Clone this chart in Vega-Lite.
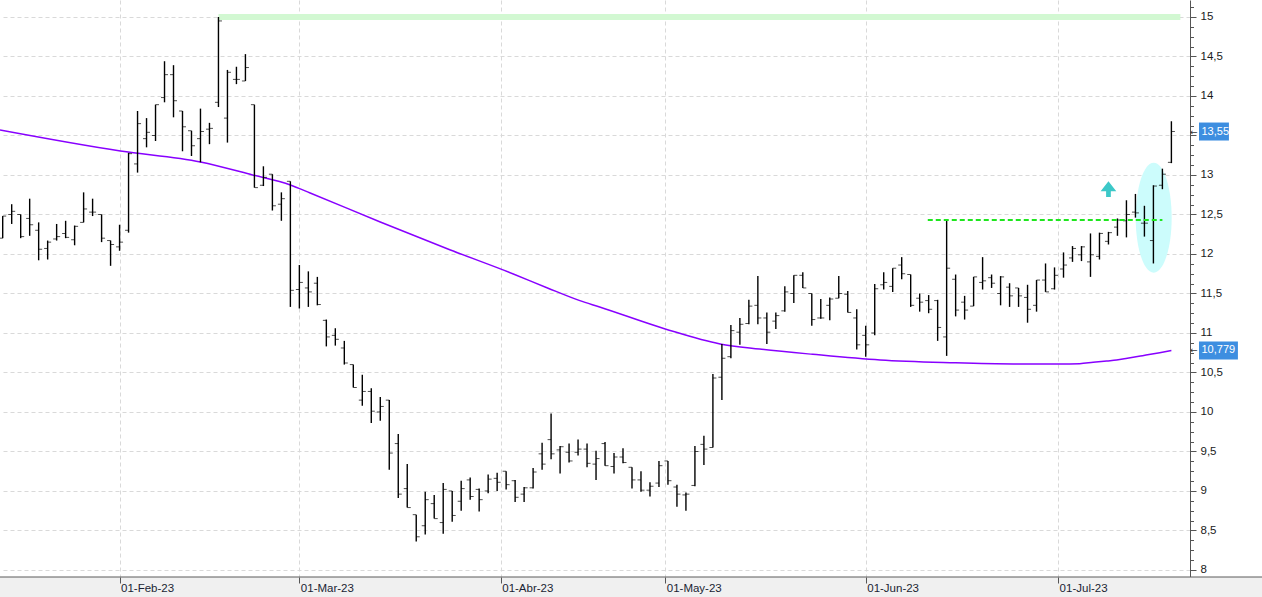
{
  "$schema": "https://vega.github.io/schema/vega-lite/v6.json",
  "width": 1190,
  "height": 577,
  "autosize": "none",
  "padding": {"left": 0, "top": 0, "right": 72, "bottom": 20},
  "background": "white",
  "config": {"view": {"stroke": null}, "font": "Liberation Sans"},
  "datasets": {
    "bars": [
      {"i":0,"o":12.20,"h":12.48,"l":12.20,"c":12.48},
      {"i":1,"o":12.50,"h":12.63,"l":12.38,"c":12.54},
      {"i":2,"o":12.50,"h":12.50,"l":12.20,"c":12.22},
      {"i":3,"o":12.45,"h":12.70,"l":12.23,"c":12.37},
      {"i":4,"o":12.30,"h":12.40,"l":11.92,"c":12.06},
      {"i":5,"o":12.07,"h":12.17,"l":11.93,"c":12.15},
      {"i":6,"o":12.19,"h":12.38,"l":12.17,"c":12.22},
      {"i":7,"o":12.26,"h":12.42,"l":12.20,"c":12.21},
      {"i":8,"o":12.18,"h":12.36,"l":12.11,"c":12.35},
      {"i":9,"o":12.40,"h":12.78,"l":12.40,"c":12.57},
      {"i":10,"o":12.53,"h":12.70,"l":12.48,"c":12.53},
      {"i":11,"o":12.50,"h":12.50,"l":12.15,"c":12.20},
      {"i":12,"o":12.17,"h":12.17,"l":11.85,"c":12.12},
      {"i":13,"o":12.09,"h":12.37,"l":12.04,"c":12.15},
      {"i":14,"o":12.30,"h":13.28,"l":12.27,"c":13.27},
      {"i":15,"o":13.14,"h":13.81,"l":13.03,"c":13.65},
      {"i":16,"o":13.46,"h":13.72,"l":13.35,"c":13.54},
      {"i":17,"o":13.50,"h":13.89,"l":13.43,"c":13.89},
      {"i":18,"o":13.98,"h":14.44,"l":13.92,"c":14.27},
      {"i":19,"o":14.27,"h":14.39,"l":13.73,"c":13.94},
      {"i":20,"o":13.81,"h":13.81,"l":13.30,"c":13.61},
      {"i":21,"o":13.56,"h":13.56,"l":13.24,"c":13.37},
      {"i":22,"o":13.46,"h":13.84,"l":13.16,"c":13.55},
      {"i":23,"o":13.58,"h":13.66,"l":13.39,"c":13.59},
      {"i":24,"o":13.92,"h":15.00,"l":13.86,"c":14.95},
      {"i":25,"o":13.72,"h":14.33,"l":13.41,"c":14.30},
      {"i":26,"o":14.21,"h":14.37,"l":14.15,"c":14.21},
      {"i":27,"o":14.19,"h":14.53,"l":14.19,"c":14.36},
      {"i":28,"o":13.89,"h":13.89,"l":12.84,"c":12.84},
      {"i":29,"o":12.87,"h":13.11,"l":12.86,"c":12.97},
      {"i":30,"o":13.01,"h":13.01,"l":12.55,"c":12.61},
      {"i":31,"o":12.63,"h":12.78,"l":12.42,"c":12.70},
      {"i":32,"o":12.92,"h":12.92,"l":11.33,"c":11.54},
      {"i":33,"o":11.55,"h":11.86,"l":11.31,"c":11.64},
      {"i":34,"o":11.57,"h":11.78,"l":11.33,"c":11.52},
      {"i":35,"o":11.63,"h":11.71,"l":11.35,"c":11.36},
      {"i":36,"o":11.16,"h":11.17,"l":10.83,"c":10.95},
      {"i":37,"o":10.97,"h":11.06,"l":10.84,"c":10.92},
      {"i":38,"o":10.81,"h":10.90,"l":10.60,"c":10.62},
      {"i":39,"o":10.60,"h":10.60,"l":10.31,"c":10.31},
      {"i":40,"o":10.15,"h":10.47,"l":10.08,"c":10.26},
      {"i":41,"o":10.26,"h":10.30,"l":9.86,"c":10.01},
      {"i":42,"o":10.00,"h":10.19,"l":9.89,"c":10.07},
      {"i":43,"o":10.15,"h":10.15,"l":9.27,"c":9.48},
      {"i":44,"o":9.60,"h":9.72,"l":8.91,"c":8.96},
      {"i":45,"o":9.03,"h":9.34,"l":8.79,"c":8.79},
      {"i":46,"o":8.70,"h":8.70,"l":8.36,"c":8.42},
      {"i":47,"o":8.56,"h":8.99,"l":8.45,"c":8.89},
      {"i":48,"o":8.84,"h":8.95,"l":8.65,"c":8.65},
      {"i":49,"o":8.60,"h":9.10,"l":8.46,"c":9.02},
      {"i":50,"o":9.00,"h":9.00,"l":8.61,"c":8.69},
      {"i":51,"o":8.87,"h":9.13,"l":8.75,"c":9.03},
      {"i":52,"o":9.14,"h":9.17,"l":8.89,"c":8.93},
      {"i":53,"o":9.02,"h":9.03,"l":8.74,"c":8.89},
      {"i":54,"o":9.00,"h":9.21,"l":8.97,"c":9.15},
      {"i":55,"o":9.16,"h":9.23,"l":9.00,"c":9.11},
      {"i":56,"o":9.25,"h":9.25,"l":9.02,"c":9.08},
      {"i":57,"o":9.13,"h":9.14,"l":8.86,"c":8.92},
      {"i":58,"o":8.96,"h":9.05,"l":8.86,"c":9.04},
      {"i":59,"o":9.04,"h":9.29,"l":9.03,"c":9.24},
      {"i":60,"o":9.47,"h":9.61,"l":9.27,"c":9.34},
      {"i":61,"o":9.65,"h":9.98,"l":9.40,"c":9.47},
      {"i":62,"o":9.52,"h":9.57,"l":9.22,"c":9.56},
      {"i":63,"o":9.49,"h":9.60,"l":9.36,"c":9.38},
      {"i":64,"o":9.49,"h":9.65,"l":9.45,"c":9.53},
      {"i":65,"o":9.53,"h":9.60,"l":9.30,"c":9.35},
      {"i":66,"o":9.34,"h":9.51,"l":9.14,"c":9.41},
      {"i":67,"o":9.60,"h":9.62,"l":9.32,"c":9.32},
      {"i":68,"o":9.31,"h":9.48,"l":9.22,"c":9.43},
      {"i":69,"o":9.43,"h":9.54,"l":9.35,"c":9.36},
      {"i":70,"o":9.30,"h":9.30,"l":9.03,"c":9.14},
      {"i":71,"o":9.14,"h":9.25,"l":8.99,"c":9.01},
      {"i":72,"o":9.01,"h":9.11,"l":8.93,"c":9.06},
      {"i":73,"o":9.10,"h":9.38,"l":9.05,"c":9.32},
      {"i":74,"o":9.38,"h":9.38,"l":9.08,"c":9.13},
      {"i":75,"o":9.05,"h":9.08,"l":8.80,"c":8.96},
      {"i":76,"o":8.95,"h":8.98,"l":8.75,"c":8.96},
      {"i":77,"o":9.07,"h":9.57,"l":9.06,"c":9.50},
      {"i":78,"o":9.59,"h":9.70,"l":9.33,"c":9.53},
      {"i":79,"o":9.55,"h":10.48,"l":9.55,"c":10.43},
      {"i":80,"o":10.44,"h":10.86,"l":10.15,"c":10.68},
      {"i":81,"o":10.70,"h":11.10,"l":10.68,"c":11.03},
      {"i":82,"o":11.01,"h":11.19,"l":10.85,"c":11.11},
      {"i":83,"o":11.12,"h":11.42,"l":11.11,"c":11.34},
      {"i":84,"o":11.35,"h":11.72,"l":11.11,"c":11.19},
      {"i":85,"o":11.19,"h":11.26,"l":10.86,"c":11.01},
      {"i":86,"o":11.15,"h":11.26,"l":11.05,"c":11.22},
      {"i":87,"o":11.28,"h":11.59,"l":11.27,"c":11.52},
      {"i":88,"o":11.50,"h":11.73,"l":11.38,"c":11.73},
      {"i":89,"o":11.73,"h":11.77,"l":11.57,"c":11.57},
      {"i":90,"o":11.50,"h":11.50,"l":11.09,"c":11.17},
      {"i":91,"o":11.19,"h":11.43,"l":11.18,"c":11.19},
      {"i":92,"o":11.35,"h":11.45,"l":11.16,"c":11.43},
      {"i":93,"o":11.44,"h":11.72,"l":11.44,"c":11.50},
      {"i":94,"o":11.49,"h":11.53,"l":11.26,"c":11.26},
      {"i":95,"o":11.19,"h":11.30,"l":10.79,"c":10.85},
      {"i":96,"o":10.97,"h":11.09,"l":10.70,"c":10.85},
      {"i":97,"o":11.00,"h":11.62,"l":10.97,"c":11.56},
      {"i":98,"o":11.61,"h":11.77,"l":11.55,"c":11.64},
      {"i":99,"o":11.59,"h":11.82,"l":11.52,"c":11.82},
      {"i":100,"o":11.86,"h":11.96,"l":11.68,"c":11.75},
      {"i":101,"o":11.74,"h":11.74,"l":11.33,"c":11.35},
      {"i":102,"o":11.44,"h":11.50,"l":11.27,"c":11.39},
      {"i":103,"o":11.41,"h":11.48,"l":11.25,"c":11.30},
      {"i":104,"o":11.41,"h":11.42,"l":10.90,"c":11.07},
      {"i":105,"o":10.95,"h":12.43,"l":10.71,"c":11.82},
      {"i":106,"o":11.68,"h":11.74,"l":11.21,"c":11.29},
      {"i":107,"o":11.39,"h":11.47,"l":11.17,"c":11.29},
      {"i":108,"o":11.34,"h":11.71,"l":11.34,"c":11.71},
      {"i":109,"o":11.64,"h":11.96,"l":11.55,"c":11.66},
      {"i":110,"o":11.70,"h":11.74,"l":11.57,"c":11.63},
      {"i":111,"o":11.50,"h":11.72,"l":11.35,"c":11.71},
      {"i":112,"o":11.58,"h":11.63,"l":11.33,"c":11.47},
      {"i":113,"o":11.57,"h":11.57,"l":11.33,"c":11.47},
      {"i":114,"o":11.45,"h":11.61,"l":11.13,"c":11.30},
      {"i":115,"o":11.35,"h":11.67,"l":11.27,"c":11.67},
      {"i":116,"o":11.67,"h":11.88,"l":11.52,"c":11.52},
      {"i":117,"o":11.56,"h":11.83,"l":11.55,"c":11.73},
      {"i":118,"o":11.81,"h":12.02,"l":11.70,"c":11.86},
      {"i":119,"o":11.95,"h":12.10,"l":11.90,"c":12.07},
      {"i":120,"o":11.99,"h":12.10,"l":11.91,"c":12.09},
      {"i":121,"o":11.90,"h":12.26,"l":11.71,"c":11.99},
      {"i":122,"o":11.97,"h":12.27,"l":11.93,"c":12.26},
      {"i":123,"o":12.16,"h":12.28,"l":12.12,"c":12.27},
      {"i":124,"o":12.34,"h":12.45,"l":12.23,"c":12.43},
      {"i":125,"o":12.42,"h":12.68,"l":12.21,"c":12.50},
      {"i":126,"o":12.53,"h":12.76,"l":12.46,"c":12.52},
      {"i":127,"o":12.39,"h":12.61,"l":12.22,"c":12.39},
      {"i":128,"o":12.17,"h":12.87,"l":11.88,"c":12.86},
      {"i":129,"o":12.87,"h":13.08,"l":12.82,"c":13.01},
      {"i":130,"o":13.16,"h":13.68,"l":13.15,"c":13.55}
    ],
    "ma": [
      {"i":-0.3,"v":13.570},
      {"i":13.1,"v":13.304},
      {"i":22.0,"v":13.165},
      {"i":27.8,"v":13.000},
      {"i":32.0,"v":12.873},
      {"i":34.2,"v":12.772},
      {"i":42.0,"v":12.405},
      {"i":49.8,"v":12.051},
      {"i":56.8,"v":11.747},
      {"i":60.6,"v":11.570},
      {"i":64.2,"v":11.409},
      {"i":66.4,"v":11.329},
      {"i":73.7,"v":11.051},
      {"i":79.8,"v":10.861},
      {"i":84.2,"v":10.797},
      {"i":90.1,"v":10.730},
      {"i":97.6,"v":10.658},
      {"i":105.4,"v":10.624},
      {"i":112.4,"v":10.608},
      {"i":117.6,"v":10.608},
      {"i":119.8,"v":10.611},
      {"i":121.3,"v":10.629},
      {"i":122.8,"v":10.646},
      {"i":123.9,"v":10.658},
      {"i":125.1,"v":10.680},
      {"i":126.8,"v":10.713},
      {"i":128.7,"v":10.751},
      {"i":130,"v":10.779}
    ],
    "tags": [
      {"t":"13,55","v":13.55},
      {"t":"10,779","v":10.779}
    ]
  },
  "resolve": {"axis": {"x": "independent", "y": "independent"}},
  "layer": [
    {
      "data": {"values": [{}]},
      "mark": {"type": "rect", "fill": "#f0f0f0", "stroke": "#5a5a5a", "strokeWidth": 1},
      "encoding": {
        "x": {"datum": -10, "type": "quantitative", "scale": {"domain": [-0.3, 132.07], "nice": false, "zero": false}, "axis": null},
        "x2": {"datum": 150},
        "y": {"datum": 7.911, "type": "quantitative", "scale": {"domain": [7.911, 15.215], "nice": false, "zero": false}, "axis": null},
        "y2": {"datum": 7.0}
      }
    },
    {
      "data": {"values": [{}]},
      "mark": {"type": "rule", "color": "#d2f8d2", "strokeWidth": 6},
      "encoding": {
        "x": {"datum": 24, "type": "quantitative", "scale": {"domain": [-0.3, 132.07], "nice": false, "zero": false}, "axis": null},
        "x2": {"datum": 131},
        "y": {"datum": 15, "type": "quantitative", "scale": {"domain": [7.911, 15.215], "nice": false, "zero": false}, "axis": null}
      }
    },
    {
      "data": {"values": [{}]},
      "mark": {"type": "point", "filled": true, "opacity": 1, "color": "#ccfcfc", "strokeWidth": 0, "size": 12100, "shape": "M-0.327,0 A0.327,1 0 1,0 0.327,0 A0.327,1 0 1,0 -0.327,0 Z"},
      "encoding": {
        "x": {"datum": 128.03, "type": "quantitative", "scale": {"domain": [-0.3, 132.07], "nice": false, "zero": false}, "axis": null},
        "y": {"datum": 12.46, "type": "quantitative", "scale": {"domain": [7.911, 15.215], "nice": false, "zero": false}, "axis": null}
      }
    },
    {
      "data": {"name": "ma"},
      "mark": {"type": "line", "color": "#8800ff", "strokeWidth": 1.5, "interpolate": "monotone"},
      "encoding": {
        "x": {"field": "i", "type": "quantitative", "scale": {"domain": [-0.3, 132.07], "nice": false, "zero": false}, "axis": null},
        "y": {"field": "v", "type": "quantitative", "scale": {"domain": [7.911, 15.215], "nice": false, "zero": false},
          "axis": {"orient": "right", "title": null, "grid": false, "domain": false, "labels": false, "tickSize": 3.5, "tickColor": "#555555", "tickWidth": 1,
            "values": [8.125, 8.25, 8.375, 8.625, 8.75, 8.875, 9.125, 9.25, 9.375, 9.625, 9.75, 9.875, 10.125, 10.25, 10.375, 10.625, 10.75, 10.875, 11.125, 11.25, 11.375, 11.625, 11.75, 11.875, 12.125, 12.25, 12.375, 12.625, 12.75, 12.875, 13.125, 13.25, 13.375, 13.625, 13.75, 13.875, 14.125, 14.25, 14.375, 14.625, 14.75, 14.875, 15.125]}}
      }
    },
    {
      "data": {"name": "bars"},
      "mark": {"type": "rule", "color": "black", "strokeWidth": 1.4},
      "encoding": {
        "x": {"field": "i", "type": "quantitative", "scale": {"domain": [-0.3, 132.07], "nice": false, "zero": false},
          "axis": {"orient": "bottom", "title": null, "values": [13, 33, 55.4, 73.7, 96, 117.4], "grid": true, "gridColor": "#d9d9d9", "gridDash": [4, 3], "gridWidth": 1, "labels": false, "ticks": false, "domain": false}},
        "y": {"field": "l", "type": "quantitative", "scale": {"domain": [7.911, 15.215], "nice": false, "zero": false},
          "axis": {"orient": "right", "title": null, "values": [8, 8.5, 9, 9.5, 10, 10.5, 11, 11.5, 12, 12.5, 13, 13.5, 14, 14.5, 15],
            "grid": true, "gridColor": "#d9d9d9", "gridDash": [4, 3], "gridWidth": 1,
            "domain": true, "domainColor": "#555555", "domainWidth": 1,
            "tickSize": 6, "tickColor": "#555555", "tickWidth": 1,
            "labelPadding": 4, "labelFont": "Liberation Sans", "labelFontSize": 11.5, "labelColor": "#1a1a1a",
            "labelExpr": "datum.value == 13.5 ? '' : replace(toString(datum.value), '.', ',')"}},
        "y2": {"field": "h"}
      }
    },
    {
      "data": {"name": "bars"},
      "mark": {"type": "tick", "orient": "horizontal", "color": "black", "size": 3.5, "thickness": 1, "xOffset": -1.75},
      "encoding": {
        "x": {"field": "i", "type": "quantitative", "scale": {"domain": [-0.3, 132.07], "nice": false, "zero": false}, "axis": null},
        "y": {"field": "o", "type": "quantitative", "scale": {"domain": [7.911, 15.215], "nice": false, "zero": false}, "axis": null}
      }
    },
    {
      "data": {"name": "bars"},
      "mark": {"type": "tick", "orient": "horizontal", "color": "black", "size": 3.5, "thickness": 1, "xOffset": 1.75},
      "encoding": {
        "x": {"field": "i", "type": "quantitative", "scale": {"domain": [-0.3, 132.07], "nice": false, "zero": false}, "axis": null},
        "y": {"field": "c", "type": "quantitative", "scale": {"domain": [7.911, 15.215], "nice": false, "zero": false}, "axis": null}
      }
    },
    {
      "data": {"values": [{}]},
      "mark": {"type": "rule", "color": "#1ee61e", "strokeWidth": 2, "strokeDash": [5, 3]},
      "encoding": {
        "x": {"datum": 102.9, "type": "quantitative", "scale": {"domain": [-0.3, 132.07], "nice": false, "zero": false}, "axis": null},
        "x2": {"datum": 129},
        "y": {"datum": 12.43, "type": "quantitative", "scale": {"domain": [7.911, 15.215], "nice": false, "zero": false}, "axis": null}
      }
    },
    {
      "data": {"values": [{}]},
      "mark": {"type": "point", "filled": true, "opacity": 1, "color": "#3cc8c8", "strokeWidth": 0, "size": 246, "shape": "M0,-1 L1,0.27 L0.3,0.27 L0.3,1 L-0.3,1 L-0.3,0.27 L-1,0.27 Z"},
      "encoding": {
        "x": {"datum": 123.0, "type": "quantitative", "scale": {"domain": [-0.3, 132.07], "nice": false, "zero": false},
          "axis": {"orient": "bottom", "title": null, "values": [13, 33, 55.4, 73.7, 96, 117.4], "grid": false, "domain": false, "zindex": 1,
            "tickSize": 6, "tickColor": "#555555", "tickWidth": 1,
            "labelAlign": "left", "labelBaseline": "middle", "labelOffset": 1, "labelPadding": 5,
            "labelFont": "Liberation Sans", "labelFontSize": 11.5, "labelColor": "#1a1f33",
            "labelExpr": "datum.value == 13 ? '01-Feb-23' : datum.value == 33 ? '01-Mar-23' : datum.value == 55.4 ? '01-Abr-23' : datum.value == 73.7 ? '01-May-23' : datum.value == 96 ? '01-Jun-23' : '01-Jul-23'"}},
        "y": {"datum": 12.82, "type": "quantitative", "scale": {"domain": [7.911, 15.215], "nice": false, "zero": false}, "axis": null}
      }
    },
    {
      "data": {"name": "tags"},
      "transform": [{"filter": "datum.t == '13,55'"}],
      "mark": {"type": "rect", "color": "#3d8ee0", "yOffset": -9, "y2Offset": 9},
      "encoding": {
        "x": {"datum": 133.07, "type": "quantitative", "scale": {"domain": [-0.3, 132.07], "nice": false, "zero": false}, "axis": null},
        "x2": {"datum": 136.4},
        "y": {"field": "v", "type": "quantitative", "scale": {"domain": [7.911, 15.215], "nice": false, "zero": false}, "axis": null},
        "y2": {"field": "v"}
      }
    },
    {
      "data": {"name": "tags"},
      "transform": [{"filter": "datum.t == '10,779'"}],
      "mark": {"type": "rect", "color": "#3d8ee0", "yOffset": -9, "y2Offset": 9},
      "encoding": {
        "x": {"datum": 133.07, "type": "quantitative", "scale": {"domain": [-0.3, 132.07], "nice": false, "zero": false}, "axis": null},
        "x2": {"datum": 137.4},
        "y": {"field": "v", "type": "quantitative", "scale": {"domain": [7.911, 15.215], "nice": false, "zero": false}, "axis": null},
        "y2": {"field": "v"}
      }
    },
    {
      "data": {"name": "tags"},
      "mark": {"type": "text", "color": "white", "font": "Liberation Sans", "fontSize": 11, "align": "left", "baseline": "middle"},
      "encoding": {
        "x": {"datum": 133.35, "type": "quantitative", "scale": {"domain": [-0.3, 132.07], "nice": false, "zero": false}, "axis": null},
        "y": {"field": "v", "type": "quantitative", "scale": {"domain": [7.911, 15.215], "nice": false, "zero": false}, "axis": null},
        "text": {"field": "t"}
      }
    },
    {
      "data": {"name": "tags"},
      "mark": {"type": "text", "color": "#333333", "font": "DejaVu Sans", "fontSize": 9, "align": "center", "baseline": "middle"},
      "encoding": {
        "x": {"datum": 132.5, "type": "quantitative", "scale": {"domain": [-0.3, 132.07], "nice": false, "zero": false}, "axis": null},
        "y": {"field": "v", "type": "quantitative", "scale": {"domain": [7.911, 15.215], "nice": false, "zero": false}, "axis": null},
        "text": {"value": "←"}
      }
    }
  ]
}
